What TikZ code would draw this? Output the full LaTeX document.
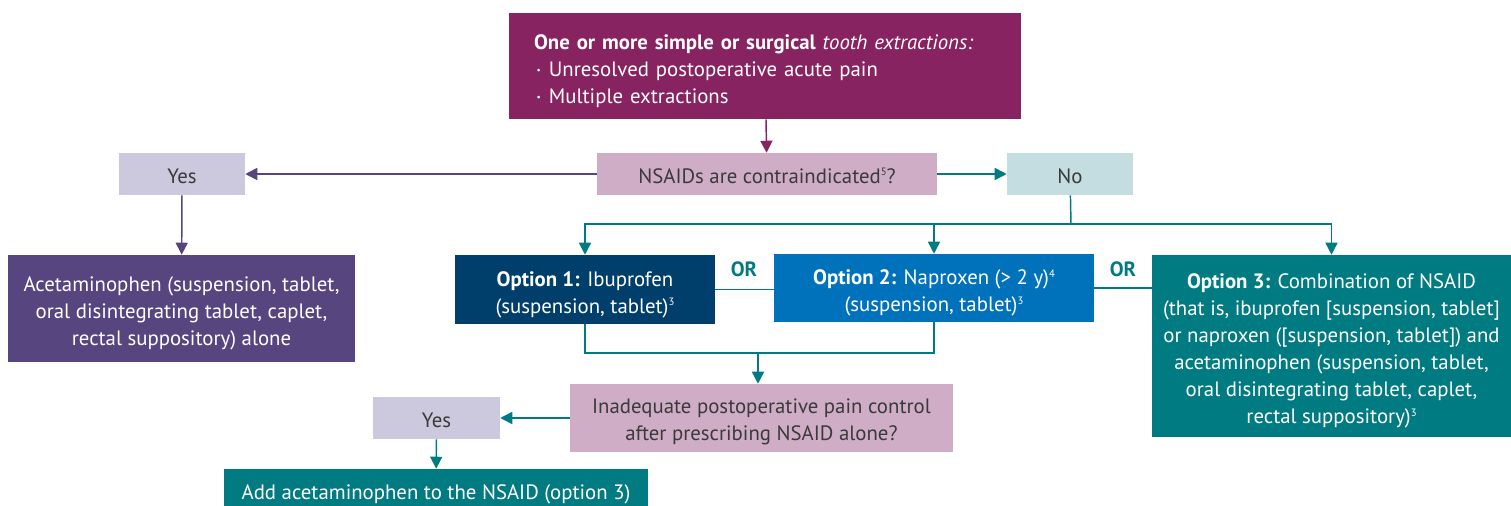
\documentclass[tikz,border=0pt]{standalone}
\usepackage{fontspec}
\setmainfont{PT Sans}
\usetikzlibrary{arrows.meta,positioning}
\definecolor{cmag}{HTML}{882361}
\definecolor{cpink}{HTML}{CFADC6}
\definecolor{clav}{HTML}{CCC8DE}
\definecolor{clblue}{HTML}{C3DDE0}
\definecolor{cpurp}{HTML}{56457F}
\definecolor{cnavy}{HTML}{003F6B}
\definecolor{cblue}{HTML}{0072BC}
\definecolor{cteal}{HTML}{007B82}
\definecolor{ctext}{HTML}{3A3A3A}
\newcommand\mysup[1]{\raisebox{0.75ex}{\fontsize{8}{8}\selectfont #1}}
\newcommand\mybul{\hspace*{2pt}\raisebox{0.3ex}{\fontsize{7}{7}\selectfont\textbullet}\hspace{6pt}}
\newcommand\liftm{\rule{0pt}{19pt}}
\newcommand\lifts{\rule{0pt}{14pt}}
\begin{document}
\begin{tikzpicture}[x=0.75pt,y=-0.75pt,
  box/.style={rectangle,inner sep=0pt,align=center,font=\fontsize{15.6}{20.25}\selectfont},
  lightbox/.style={box,text=ctext},
  darkbox/.style={box,text=white},
  conn/.style={line width=1.1pt,-{Triangle[length=9pt,width=9pt]}},
  plain/.style={line width=1.1pt},
  orlbl/.style={font=\fontsize{15.5}{18}\selectfont\bfseries,text=cteal}]
\useasboundingbox (0,0) rectangle (1511,506);
% nodes
\node[darkbox,fill=cmag,minimum width=384pt,minimum height=79.5pt,text width=384pt-37.5pt,align=left] (top) at (765,66)
 {\liftm\textbf{One or more simple or surgical} \textit{tooth extractions:}\\
  \mybul Unresolved postoperative acute pain\\
  \mybul Multiple extractions};
\node[lightbox,fill=cpink,minimum width=255pt,minimum height=31.5pt] (nsaid) at (767,174) {\lifts NSAIDs are contraindicated\mysup{5}?};
\node[lightbox,fill=clav,minimum width=94.5pt,minimum height=31.5pt] (yes1) at (182,174) {\lifts Yes};
\node[lightbox,fill=clblue,minimum width=94.5pt,minimum height=31.5pt] (no) at (1070,174) {\lifts No};
\node[darkbox,fill=cpurp,minimum width=260.25pt,minimum height=80.25pt] (acet) at (181.5,308.5)
 {\liftm Acetaminophen (suspension, tablet,\\oral disintegrating tablet, caplet,\\rectal suppository) alone};
\node[darkbox,fill=cnavy,minimum width=195pt,minimum height=51.75pt] (opt1) at (585,289.5)
 {\liftm\textbf{Option 1:} Ibuprofen\\(suspension, tablet)\mysup{3}};
\node[darkbox,fill=cblue,minimum width=240pt,minimum height=51pt] (opt2) at (934,288)
 {\liftm\textbf{Option 2:} Naproxen (> 2 y)\mysup{4}\\(suspension, tablet)\mysup{3}};
\node[darkbox,fill=cteal,minimum width=269.25pt,minimum height=136.5pt] (opt3) at (1331.5,346)
 {\liftm\textbf{Option 3:} Combination of NSAID\\(that is, ibuprofen [suspension, tablet]\\or naproxen ([suspension, tablet]) and\\acetaminophen (suspension, tablet,\\oral disintegrating tablet, caplet,\\rectal suppository)\mysup{3}};
\node[lightbox,fill=cpink,minimum width=287.25pt,minimum height=51pt] (inad) at (761.5,418)
 {\rule{0pt}{17pt}Inadequate postoperative pain control\\after prescribing NSAID alone?};
\node[lightbox,fill=clav,minimum width=95.25pt,minimum height=31.5pt] (yes2) at (436.5,418) {\lifts Yes};
\node[darkbox,fill=cteal,minimum width=318pt,minimum height=30.75pt] (add) at (436,489.5)
 {\liftm Add acetaminophen to the NSAID (option 3)};
\node[orlbl] (or1) at (744,269) {OR};
\node[orlbl] (or2) at (1123,269) {OR};
% coordinates
\coordinate (bus) at (1071,224);
\coordinate (b2) at (opt2.north |- bus);
\coordinate (m) at (758,353);
% connectors
\draw[conn,cmag] (top) -- (nsaid);
\draw[conn,cpurp] (nsaid) -- (yes1);
\draw[conn,cpurp] (yes1) -- (acet);
\draw[conn,cteal] (nsaid) -- (no);
\draw[plain,cteal] (no) -- (bus);
\draw[conn,cteal] (bus) -| (opt1.north);
\draw[conn,cteal] (bus) -| (opt3.north);
\draw[conn,cteal] (b2) -- (opt2.north);
\draw[plain,cteal] (opt1.east) -- (opt1.east -| opt2.west);
\draw[plain,cteal] (opt2.east) -- (opt2.east -| opt3.west);
\draw[plain,cteal] (opt1.south) |- (m) -| (opt2.south);
\draw[conn,cteal] (m) -- (m |- inad.north);
\draw[conn,cteal] (inad) -- (yes2);
\draw[conn,cteal] (yes2) -- (add);
\end{tikzpicture}
\end{document}
